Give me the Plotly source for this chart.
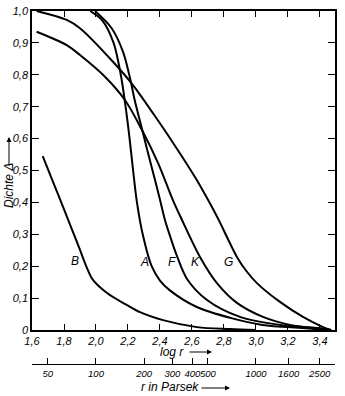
import numpy as np
import plotly.graph_objects as go

# curves: x = log r, y = Dichte
B_x = [1.667, 1.73, 1.794, 1.85, 1.90, 1.944, 1.981, 2.069, 2.194, 2.275, 2.419, 2.631, 2.838, 3.0]
B_y = [0.545, 0.466, 0.386, 0.315, 0.251, 0.194, 0.157, 0.116, 0.078, 0.056, 0.031, 0.009, 0.003, 0.0]

A_x = [1.963, 2.04, 2.11, 2.155, 2.185, 2.21, 2.232, 2.256, 2.292, 2.348, 2.40, 2.46, 2.63, 2.84, 3.04, 3.29, 3.45]
A_y = [1.0, 0.97, 0.90, 0.80, 0.70, 0.60, 0.50, 0.40, 0.30, 0.20, 0.155, 0.125, 0.072, 0.038, 0.016, 0.006, 0.0]

F_x = [1.994, 2.098, 2.169, 2.2125, 2.244, 2.28, 2.32, 2.369, 2.40, 2.431, 2.4625, 2.506, 2.569, 2.694, 2.90, 3.15, 3.381, 3.47]
F_y = [1.0, 0.946, 0.872, 0.79, 0.716, 0.645, 0.565, 0.47, 0.408, 0.345, 0.295, 0.232, 0.16, 0.094, 0.041, 0.016, 0.006, 0.0]

K_x = [1.629, 1.817, 1.90, 2.056, 2.181, 2.2875, 2.3875, 2.48, 2.5375, 2.65, 2.756, 2.881, 3.044, 3.2125, 3.419, 3.47]
K_y = [0.935, 0.893, 0.862, 0.794, 0.721, 0.627, 0.524, 0.408, 0.345, 0.229, 0.147, 0.085, 0.041, 0.016, 0.003, 0.0]

G_x = [1.629, 1.817, 1.90, 2.106, 2.231, 2.39, 2.51, 2.63, 2.70, 2.77, 2.82, 2.88, 2.94, 3.006, 3.15, 3.294, 3.419, 3.465]
G_y = [1.0, 0.972, 0.946, 0.841, 0.768, 0.655, 0.565, 0.47, 0.408, 0.342, 0.29, 0.23, 0.185, 0.147, 0.088, 0.041, 0.009, 0.0]

curve_labels = ["B", "A", "F", "K", "G"]
label_x = [1.869, 2.306, 2.475, 2.625, 2.83]
label_y = [0.215, 0.213, 0.213, 0.213, 0.213]

logr_ticks = [1.6, 1.8, 2.0, 2.2, 2.4, 2.6, 2.8, 3.0, 3.2, 3.4]
dens_ticks = [0.0, 0.1, 0.2, 0.3, 0.4, 0.5, 0.6, 0.7, 0.8, 0.9, 1.0]
parsec = [50, 100, 200, 300, 400, 500, 1000, 1600, 2500]

FONT = "Liberation Sans Narrow, Liberation Sans"


def comma(v):
    return "<i>0</i>" if v == 0 else "<i>" + f"{v:.1f}".replace(".", ",") + "</i>"


# pixel -> paper helpers (plot box 32..335 x, 11..364 y)
def px(x):
    return (x - 32) / 303


def py(y):
    return (364 - y) / 353


fig = go.Figure()
for xs, ys in [(B_x, B_y), (A_x, A_y), (F_x, F_y), (K_x, K_y), (G_x, G_y)]:
    fig.add_trace(go.Scatter(x=xs, y=ys, mode="lines",
                             line=dict(color="black", width=2, shape="spline", smoothing=0.9),
                             showlegend=False, hoverinfo="skip"))
# empty trace so the parsec axis exists
fig.add_trace(go.Scatter(x=[], y=[], xaxis="x2", yaxis="y", showlegend=False))

lab_font = dict(family=FONT, size=12, color="black")
for t, x, y in zip(curve_labels, label_x, label_y):
    fig.add_annotation(x=x, y=y, text=f"<i>{t}</i>", showarrow=False, font=lab_font)

for x, y, t, ang in [(172, 352, "<i>log r</i>", 0), (170, 387, "<i>r in Parsek</i>", 0),
                     (9, 186, "<i>Dichte Δ</i>", -90)]:
    fig.add_annotation(xref="paper", yref="paper", x=px(x), y=py(y), text=t, textangle=ang,
                       xanchor="center", yanchor="middle", showarrow=False, font=lab_font)
# arrows
for x0, y0, dx, dy in [(212, 352, -24, 0), (230, 388, -30, 0), (9, 137, 0, 30)]:
    fig.add_annotation(xref="paper", yref="paper", x=px(x0), y=py(y0), text="",
                       ax=dx, ay=dy, axref="pixel", ayref="pixel", showarrow=True,
                       arrowhead=2, arrowsize=1, arrowwidth=1, arrowcolor="black")

tick_font = dict(family=FONT, size=11, color="black")
fig.update_layout(
    width=345, height=396,
    margin=dict(l=32, r=10, t=11, b=32, autoexpand=False),
    paper_bgcolor="white", plot_bgcolor="white",
    font=dict(family=FONT, size=11, color="black"),
    xaxis=dict(range=[1.6, 3.494], domain=[0, 1], anchor="y", automargin=False,
               tickvals=logr_ticks, ticktext=[comma(v) for v in logr_ticks], tickangle=0,
               ticks="inside", ticklen=6, tickcolor="black", mirror="ticks",
               showline=True, linecolor="black", linewidth=1.5,
               showgrid=False, zeroline=False, tickfont=tick_font),
    xaxis2=dict(range=[1.6, 3.494], overlaying="x", anchor="free", position=0, side="bottom",
                automargin=False, tickangle=0,
                tickvals=list(np.log10(parsec)), ticktext=[f"<i>{p}</i>" for p in parsec],
                ticks="inside", ticklen=6, tickcolor="black",
                showline=True, linecolor="black", linewidth=1.2,
                showgrid=False, zeroline=False,
                tickfont=dict(family=FONT, size=9.5, color="black")),
    yaxis=dict(range=[0, 1.0], domain=[py(330), 1], automargin=False,
               tickvals=dens_ticks, ticktext=[comma(v) for v in dens_ticks],
               ticks="inside", ticklen=7, tickcolor="black", mirror="ticks",
               showline=True, linecolor="black", linewidth=1.5,
               showgrid=False, zeroline=False, tickfont=tick_font),
)

# page has a default body margin; drop it so the figure sits at the window origin
fig.write_html("out.html", config={"displayModeBar": False},
               post_script="document.body.style.margin='0';")
